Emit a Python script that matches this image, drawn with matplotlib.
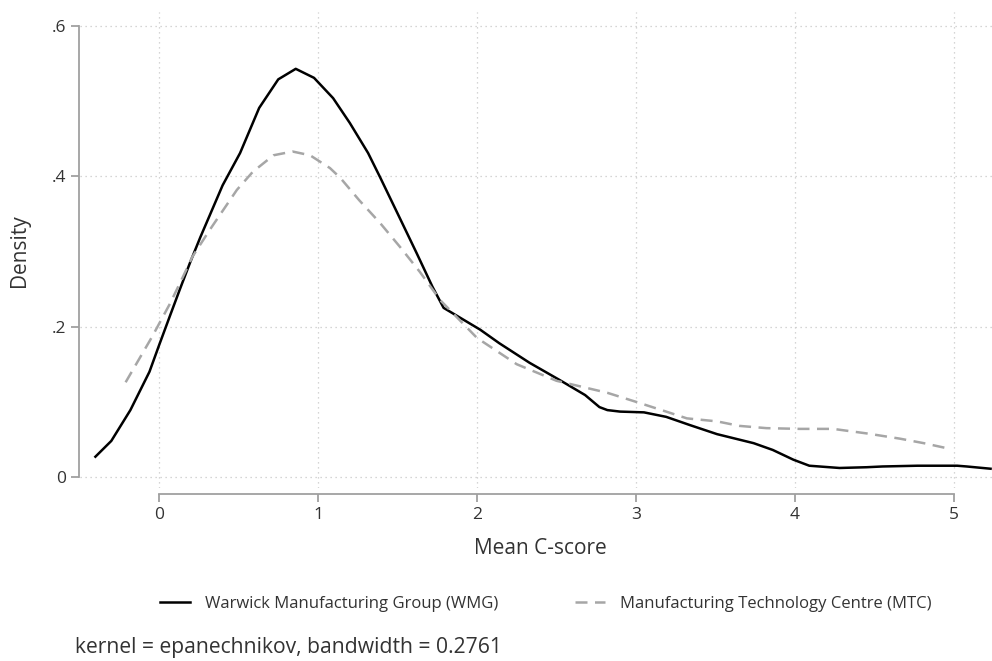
import matplotlib
matplotlib.use("Agg")
import matplotlib.pyplot as plt

plt.rcParams['font.family'] = ['Open Sans', 'DejaVu Sans']

# kernel density estimates
wmg_x = [-0.40, -0.30, -0.18, -0.06, 0.0, 0.07, 0.13, 0.195, 0.26, 0.40, 0.51, 0.63, 0.75, 0.86,
         0.975, 1.095, 1.20, 1.315, 1.39, 1.52, 1.62, 1.72, 1.79, 2.02, 2.14, 2.33,
         2.52, 2.68, 2.77, 2.82, 2.90, 3.05, 3.19, 3.34, 3.51, 3.74, 3.86, 3.99,
         4.09, 4.28, 4.45, 4.55, 4.77, 4.91, 5.02, 5.08, 5.23]
wmg_y = [0.027, 0.048, 0.089, 0.140, 0.175, 0.215, 0.249, 0.285, 0.319, 0.388, 0.431, 0.491, 0.529, 0.543,
         0.531, 0.504, 0.471, 0.431, 0.399, 0.342, 0.298, 0.253, 0.225, 0.196, 0.178, 0.152,
         0.129, 0.109, 0.093, 0.089, 0.087, 0.086, 0.080, 0.069, 0.057, 0.045, 0.036, 0.023,
         0.015, 0.012, 0.013, 0.014, 0.015, 0.015, 0.015, 0.014, 0.011]

mtc_x = [-0.21, -0.045, 0.07, 0.15, 0.21, 0.32, 0.49, 0.59, 0.72, 0.84, 0.95, 1.075, 1.14, 1.26,
         1.39, 1.52, 1.64, 1.77, 2.0, 2.25, 2.5, 2.82, 3.0, 3.19, 3.32, 3.51, 3.65,
         3.82, 4.03, 4.24, 4.45, 4.66, 4.81, 4.94]
mtc_y = [0.126, 0.186, 0.231, 0.266, 0.293, 0.329, 0.382, 0.406, 0.428, 0.433, 0.428, 0.411, 0.398, 0.368,
         0.338, 0.305, 0.273, 0.235, 0.185, 0.150, 0.128, 0.112, 0.100, 0.087, 0.078, 0.074, 0.068,
         0.065, 0.064, 0.064, 0.058, 0.051, 0.045, 0.039]

xticks = [0, 1, 2, 3, 4, 5]
yticks = [0, 0.2, 0.4, 0.6]
ytick_labels = ['0', '.2', '.4', '.6']

W, H = 992, 661
fig = plt.figure(figsize=(W / 100, H / 100), dpi=100)
fig.patch.set_facecolor('white')

# plot region in pixels
left, right, top, bottom = 80, 992, 12, 488
ax = fig.add_axes([left / W, 1 - bottom / H, (right - left) / W, (bottom - top) / H])

# data->pixel: x0 at 159, 159 px/unit ; y0 at 477, 751.7 px/unit
ax.set_xlim((left - 159) / 159, (right - 159) / 159)
ax.set_ylim((477 - bottom) / 751.7, (477 - top) / 751.7)

l1, = ax.plot(wmg_x, wmg_y, color='black', lw=1.8, solid_joinstyle='round',
              label='Warwick Manufacturing Group (WMG)')
l2, = ax.plot(mtc_x, mtc_y, color='#a6a6a6', lw=1.8, dashes=(4.8, 3),
              label='Manufacturing Technology Centre (MTC)')

ax.set_xticks(xticks)
ax.set_yticks(yticks)
ax.set_yticklabels(ytick_labels)
ax.grid(True, color='#c8c8c8', linestyle=(0, (1, 3)), lw=0.9)
ax.set_axisbelow(True)

for s in ['top', 'right']:
    ax.spines[s].set_visible(False)
axis_grey = '#a0a0a0'
ax.spines['left'].set_bounds(0, 0.6)
ax.spines['left'].set_position(('outward', 1))
ax.spines['bottom'].set_bounds(0, 5)
ax.spines['bottom'].set_position(('outward', 4))
for s in ['left', 'bottom']:
    ax.spines[s].set_color(axis_grey)
    ax.spines[s].set_linewidth(1.3)
ax.tick_params(colors=axis_grey, labelcolor='#333333', labelsize=12.5,
               length=6, width=1.3)
ax.tick_params(axis='y', pad=3)

fig.text(540 / W, 1 - 549 / H, 'Mean C-score', ha='center', va='center',
         fontsize=15, color='#333333')
fig.text(19 / W, 1 - 251 / H, 'Density', ha='center', va='center',
         rotation=90, fontsize=15, color='#333333')

fig.legend(handles=[l1, l2], loc='center', bbox_to_anchor=(546 / W, 1 - 604 / H),
           ncol=2, frameon=False, fontsize=12, handlelength=1.8,
           columnspacing=4.6, handletextpad=0.9, labelcolor='#333333')

fig.text(75 / W, 1 - 648 / H, 'kernel = epanechnikov, bandwidth = 0.2761',
         ha='left', va='center', fontsize=15.2, color='#333333')

fig.savefig('out.png', dpi=100, facecolor='white')
